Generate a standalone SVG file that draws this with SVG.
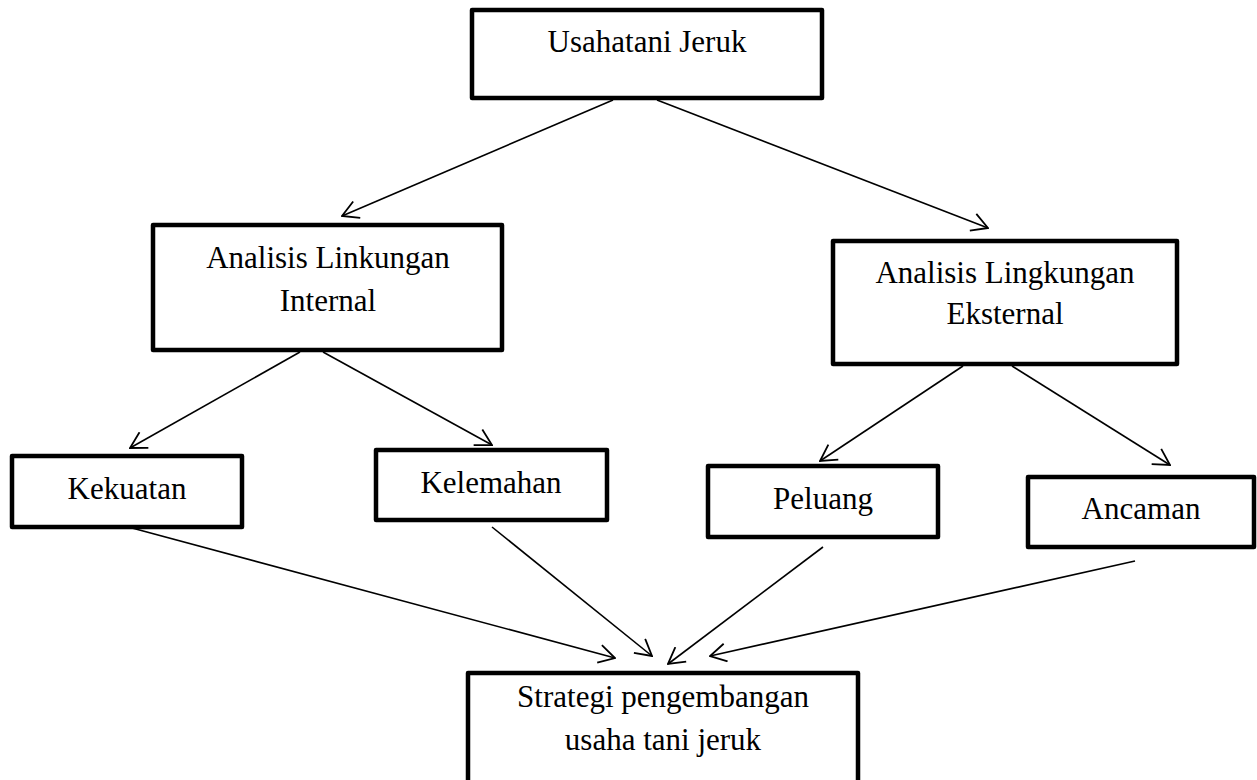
<svg xmlns="http://www.w3.org/2000/svg" width="1257" height="780" viewBox="0 0 1257 780">
<style>
.box{fill:#fff;stroke:#000;stroke-width:4.5;stroke-linejoin:round}
.lbl{font-family:"Liberation Serif","Times New Roman",serif;font-size:31px;fill:#000;text-anchor:middle}
.con{stroke:#000;stroke-width:1.6;fill:none;marker-end:url(#ah)}
</style>
<defs>
<marker id="ah" viewBox="0 0 18 20" refX="17" refY="10" markerWidth="18" markerHeight="20" markerUnits="userSpaceOnUse" orient="auto">
<path d="M1,1 L17,10 L1,19" fill="none" stroke="#000" stroke-width="1.8"/>
</marker>
</defs>
<rect width="1257" height="780" fill="#fff"/>
<g id="connectors">
<line class="con" x1="613" y1="100" x2="342" y2="216"/>
<line class="con" x1="657" y1="100" x2="988" y2="228"/>
<line class="con" x1="300" y1="352" x2="130" y2="448"/>
<line class="con" x1="323" y1="352" x2="492" y2="445"/>
<line class="con" x1="963" y1="366" x2="820" y2="461"/>
<line class="con" x1="1012" y1="366" x2="1170" y2="465"/>
<line class="con" x1="132" y1="528" x2="615" y2="658"/>
<line class="con" x1="492" y1="527" x2="652" y2="656"/>
<line class="con" x1="823" y1="547" x2="668" y2="664"/>
<line class="con" x1="1135" y1="561" x2="710" y2="656"/>
</g>
<g id="node-usahatani">
<rect class="box" x="472" y="10" width="350" height="88"/>
<text class="lbl" x="647" y="52">Usahatani Jeruk</text>
</g>
<g id="node-internal">
<rect class="box" x="153" y="225" width="349" height="125"/>
<text class="lbl" x="328" y="268">Analisis Linkungan</text>
<text class="lbl" x="328" y="311">Internal</text>
</g>
<g id="node-eksternal">
<rect class="box" x="833" y="241" width="344" height="123"/>
<text class="lbl" x="1005" y="283">Analisis Lingkungan</text>
<text class="lbl" x="1005" y="324">Eksternal</text>
</g>
<g id="node-kekuatan">
<rect class="box" x="12" y="456" width="230" height="71"/>
<text class="lbl" x="127" y="499">Kekuatan</text>
</g>
<g id="node-kelemahan">
<rect class="box" x="376" y="450" width="231" height="70"/>
<text class="lbl" x="491" y="493">Kelemahan</text>
</g>
<g id="node-peluang">
<rect class="box" x="708" y="466" width="230" height="71"/>
<text class="lbl" x="823" y="509">Peluang</text>
</g>
<g id="node-ancaman">
<rect class="box" x="1028" y="477" width="226" height="70"/>
<text class="lbl" x="1141" y="519">Ancaman</text>
</g>
<g id="node-strategi">
<rect class="box" x="468" y="673" width="390" height="130"/>
<text class="lbl" x="663" y="707">Strategi pengembangan</text>
<text class="lbl" x="663" y="750">usaha tani jeruk</text>
</g>
</svg>
